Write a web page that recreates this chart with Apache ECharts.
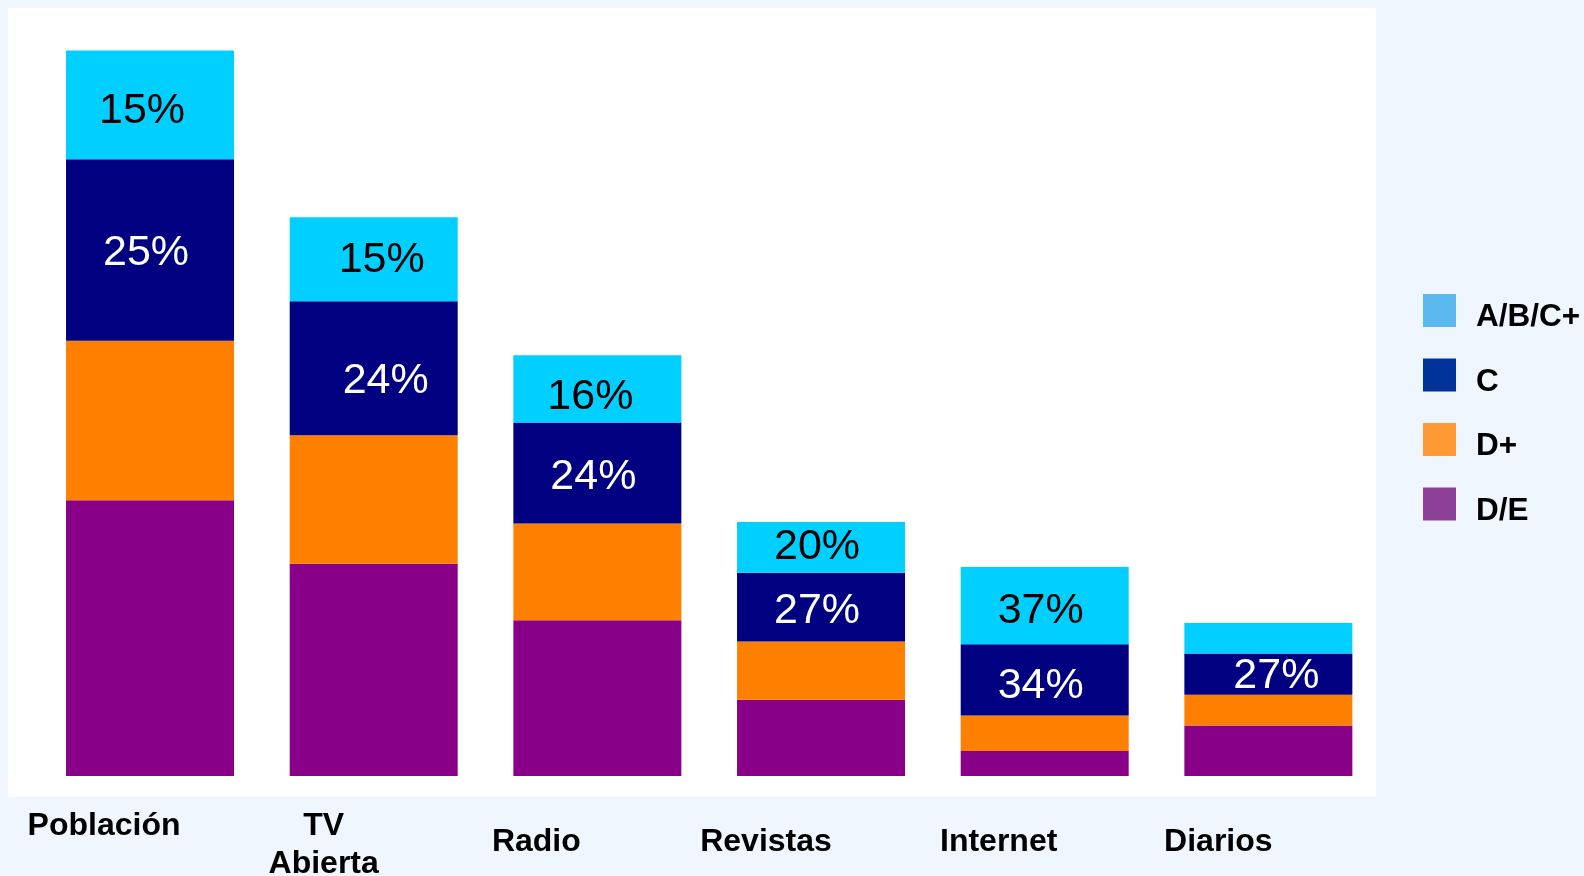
<!DOCTYPE html>
<html>
<head>
<meta charset="utf-8">
<title>Perfil socioeconómico por medio</title>
<script src="https://cdn.jsdelivr.net/npm/echarts@6/dist/echarts.min.js"></script>
<style>
  html, body { margin: 0; padding: 0; background: #EFF6FE; }
  #chart { width: 1584px; height: 876px; }
</style>
</head>
<body>
<div id="chart"></div>
<script>
// Media categories (x axis)
const categories = ['Población', 'TV\nAbierta', 'Radio', 'Revistas', 'Internet', 'Diarios'];

// Audience size of each medium, indexed to total population = 100
const totals = [100, 77, 58, 35, 28.8, 21.1];

// Socioeconomic share (%) within each medium
const shareABC   = [15, 15, 16, 20, 37, 20];
const shareC     = [25, 24, 24, 27, 34, 27];
const shareDplus = [22, 23, 23, 23, 17, 20];
const shareDE    = [38, 38, 37, 30, 12, 33];

// Which segments carry a printed percentage
const labelABC = [true, true, true, true, true, false];
const labelC   = [true, true, true, true, true, true];

// Legend entries, top to bottom
const groupNames = ['A/B/C+', 'C', 'D+', 'D/E'];

const FONT = "'Liberation Sans', Arial, sans-serif";

const barColors = { 'A/B/C+': '#00CFFF', 'C': '#000080', 'D+': '#FF8000', 'D/E': '#880088' };
const legendColors = { 'A/B/C+': '#5BB9F0', 'C': '#003399', 'D+': '#FF9933', 'D/E': '#8E3F97' };

// Hand-placed nudges for the percentage labels, [dx, dy] in px
const nudgeABC = [[-8, 6], [8, 1], [-7, 8], [-4, 0], [-4, 5], [0, 0]];
const nudgeC   = [[-4, 3], [12, 13], [-4, 4], [-4, 4], [-4, 6], [8, 2]];
// Extra padding per category label (shifts it left of the bar centre / down)
const catPadRight = [92, 100, 122, 110, 92, 100];
const catPadTop   = [0, 0, 16, 16, 16, 16];

function segment(shares, nudges) {
  return totals.map((t, i) => {
    const item = { value: +(t * shares[i] / 100).toFixed(3) };
    if (nudges) {
      item.label = { offset: nudges[i] };
    }
    return item;
  });
}

function pctLabel(shares, flags, color) {
  return {
    show: true,
    position: 'inside',
    color: color,
    fontFamily: FONT,
    fontSize: 43,
    formatter: p => flags[p.dataIndex] ? shares[p.dataIndex] + '%' : ''
  };
}

const catData = categories.map((c, i) => ({
  value: c,
  textStyle: { padding: [catPadTop[i], catPadRight[i], 0, 0] }
}));

const chart = echarts.init(document.getElementById('chart'), null, { renderer: 'canvas' });

chart.setOption({
  backgroundColor: '#EFF6FE',
  animation: false,
  graphic: [{
    type: 'rect',
    z: -10,
    silent: true,
    shape: { x: 8, y: 8, width: 1368, height: 789 },
    style: { fill: '#FFFFFF' }
  }],
  grid: {
    left: 38.2, right: 203.8, top: 50.5, bottom: 100,
    containLabel: false,
    outerBoundsMode: 'none'
  },
  legend: {
    orient: 'vertical',
    left: 1418,
    top: 289,
    icon: 'rect',
    itemWidth: 33,
    itemHeight: 33,
    itemGap: 25,
    selectedMode: false,
    formatter: name => '{s|}{t|' + name + '}',
    textStyle: {
      fontFamily: FONT,
      fontSize: 31.5,
      fontWeight: 'bold',
      color: '#000',
      rich: {
        s: { width: 15, height: 46 },
        t: {
          fontFamily: FONT,
          fontSize: 31.5,
          fontWeight: 'bold',
          color: '#000',
          lineHeight: 34,
          verticalAlign: 'bottom'
        }
      }
    },
    data: groupNames.map(n => ({ name: n, itemStyle: { color: legendColors[n] } }))
  },
  xAxis: {
    type: 'category',
    data: catData,
    axisLine: { show: false },
    axisTick: { show: false },
    axisLabel: {
      interval: 0,
      margin: 31,
      color: '#000',
      fontFamily: FONT,
      fontSize: 32,
      fontWeight: 'bold',
      lineHeight: 38
    }
  },
  yAxis: {
    type: 'value',
    min: 0,
    max: 100,
    show: false,
    splitLine: { show: false }
  },
  series: [
    {
      name: 'D/E', type: 'bar', stack: 'nse', barWidth: 168,
      itemStyle: { color: barColors['D/E'] },
      data: segment(shareDE)
    },
    {
      name: 'D+', type: 'bar', stack: 'nse', barWidth: 168,
      itemStyle: { color: barColors['D+'] },
      data: segment(shareDplus)
    },
    {
      name: 'C', type: 'bar', stack: 'nse', barWidth: 168,
      itemStyle: { color: barColors['C'] },
      label: pctLabel(shareC, labelC, '#FFFFFF'),
      data: segment(shareC, nudgeC)
    },
    {
      name: 'A/B/C+', type: 'bar', stack: 'nse', barWidth: 168,
      itemStyle: { color: barColors['A/B/C+'] },
      label: pctLabel(shareABC, labelABC, '#000000'),
      data: segment(shareABC, nudgeABC)
    }
  ]
});
</script>
</body>
</html>
